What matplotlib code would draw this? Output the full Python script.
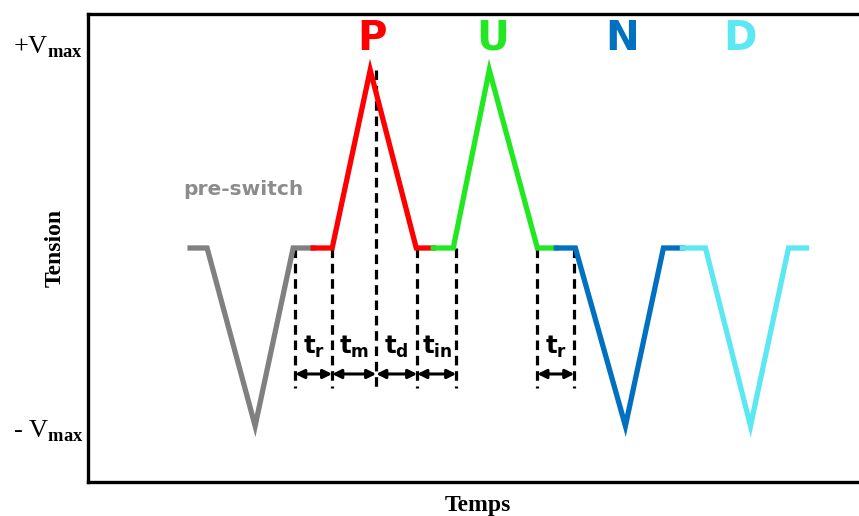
import matplotlib.pyplot as plt
from matplotlib import transforms

plt.rcParams['mathtext.fontset'] = 'custom'
plt.rcParams['mathtext.rm'] = 'Liberation Serif'
plt.rcParams['mathtext.bf'] = 'Liberation Serif:bold'
plt.rcParams['mathtext.sf'] = 'DejaVu Sans:bold'

# waveform breakpoints (time, voltage / Vmax)
pre_t = [102, 119, 167, 205, 225]
pre_v = [0, 0, -1, 0, 0]
p_t = [225, 244, 282, 328, 345]
p_v = [0, 0, 1, 0, 0]
u_t = [345, 365, 401, 449, 468]
u_v = [0, 0, 1, 0, 0]
n_t = [468, 487, 537, 575, 594]
n_v = [0, 0, -1, 0, 0]
d_t = [594, 617, 662, 700, 718]
d_v = [0, 0, -1, 0, 0]

pulse_names = ['P', 'U', 'N', 'D']
pulse_colors = ['#ff0000', '#22e822', '#0070c0', '#5ce8f2']
pulse_label_t = [284, 404, 534, 652]

# timing markers
mark_t = [207, 244, 288, 329, 368, 449, 486]
mark_top = [0, 0, 1, 0, 0, 0, 0]
interval_labels = [('t', 'r'), ('t', 'm'), ('t', 'd'), ('t', 'in'), None, ('t', 'r')]

fig = plt.figure(figsize=(8.59, 5.16), dpi=100)
ax = fig.add_axes([88 / 859, 1 - 482 / 516, 1 - 88 / 859 + 0.01, (482 - 14) / 516])
ax.set_xlim(0, 779)
ax.set_ylim(-1.315, 1.315)

ax.plot(pre_t, pre_v, color='#808080', lw=3.8, solid_joinstyle='miter')
for tt, vv, c in zip([p_t, u_t, n_t, d_t], [p_v, u_v, n_v, d_v], pulse_colors):
    ax.plot(tt, vv, color=c, lw=3.8, solid_joinstyle='miter')

for t, top in zip(mark_t, mark_top):
    ax.plot([t, t], [top, -0.787], color='black', lw=2.3, ls=(0, (3, 1.8)), zorder=1)

arrow_v = -0.708
for i, lab in enumerate(interval_labels):
    if lab is None:
        continue
    a, b = mark_t[i], mark_t[i + 1]
    ax.annotate('', xy=(b, arrow_v), xytext=(a, arrow_v),
                arrowprops=dict(arrowstyle='<|-|>', color='black', lw=2.2,
                                mutation_scale=13, shrinkA=0, shrinkB=0))
    ax.text((a + b) / 2, -0.556, r'$\mathsf{%s}_{\mathsf{%s}}$' % lab,
            ha='center', va='center', fontsize=17.5)

for name, c, t in zip(pulse_names, pulse_colors, pulse_label_t):
    ax.text(t, 1.175, name, color=c, fontsize=29, fontweight='bold',
            ha='center', va='center', family='DejaVu Sans')

ax.text(155, 0.326, 'pre-switch', color='#8c8c8c', fontsize=14.5,
        fontweight='bold', ha='center', va='center', family='DejaVu Sans')

trans = transforms.blended_transform_factory(ax.transAxes, ax.transData)
ax.text(-0.006, 1.13, r'$+\mathrm{V}_{\mathbf{max}}$', transform=trans,
        ha='right', va='center', fontsize=19)
ax.text(-0.006, -1.03, r'- $\mathrm{V}_{\mathbf{max}}$', transform=trans,
        ha='right', va='center', fontsize=19, family='Liberation Serif')

ax.set_ylabel('Tension', fontsize=17, fontweight='bold', family='Liberation Serif', labelpad=16)
ax.set_xlabel('Temps', fontsize=17, fontweight='bold', family='Liberation Serif', labelpad=9)
ax.set_xticks([])
ax.set_yticks([])
for s in ax.spines.values():
    s.set_linewidth(2.4)
ax.spines['right'].set_visible(False)

fig.savefig('out.png', dpi=100)
